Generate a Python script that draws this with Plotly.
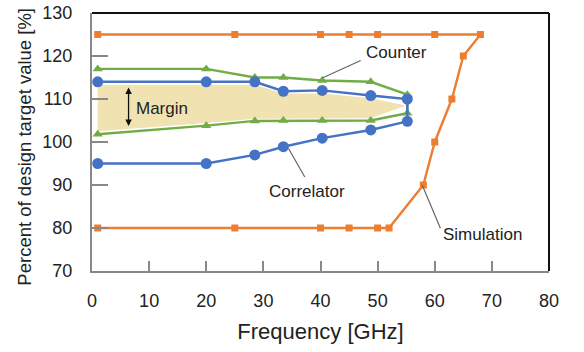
import plotly.graph_objects as go

# Data
sim_x = [1, 25, 40, 45, 50, 52, 58, 60, 63, 65, 68, 60, 50, 45, 40, 25, 1]
sim_y = [80, 80, 80, 80, 80, 80, 90, 100, 110, 120, 125, 125, 125, 125, 125, 125, 125]

counter_x = [1, 20, 28.5, 33.5, 40.3, 48.8, 55.2, 55.2, 48.8, 40.3, 33.5, 28.5, 20, 1]
counter_y = [117, 117, 115, 115, 114.3, 114, 111, 106.7, 105, 105, 105, 104.9, 103.8, 101.8]

corr_x = [1, 20, 28.5, 33.5, 40.3, 48.8, 55.2, 55.2, 48.8, 40.3, 33.5, 28.5, 20, 1]
corr_y = [114, 114, 114, 111.8, 112, 110.8, 110, 104.8, 102.8, 100.9, 98.9, 97, 95, 95]

fill_x = [1, 20, 28.5, 33.5, 40.3, 48.8, 55, 48.8, 40.3, 33.5, 28.5, 20, 1]
fill_y = [113.3, 113.3, 113.3, 111.3, 111.3, 110.2, 108.5, 105.5, 105.5, 105.5, 105.4, 104.4, 102.5]

x_ticks = [0, 10, 20, 30, 40, 50, 60, 70, 80]
y_ticks = [70, 80, 90, 100, 110, 120, 130]

ORANGE = "#ED7D31"
BLUE = "#4472C4"
GREEN = "#70AD47"
TAN = "#F1E2B2"
FONT = "Liberation Sans, Arial, sans-serif"

fig = go.Figure()
fig.add_trace(go.Scatter(x=fill_x, y=fill_y, fill="toself", fillcolor=TAN,
                         mode="lines", line=dict(width=0), hoverinfo="skip"))
fig.add_trace(go.Scatter(x=sim_x, y=sim_y, mode="lines+markers",
                         line=dict(color=ORANGE, width=2.4),
                         marker=dict(symbol="square", size=7, color=ORANGE)))
fig.add_trace(go.Scatter(x=counter_x, y=counter_y, mode="lines+markers",
                         line=dict(color=GREEN, width=2.4),
                         marker=dict(symbol="triangle-up", size=9, color=GREEN)))
fig.add_trace(go.Scatter(x=corr_x, y=corr_y, mode="lines+markers",
                         line=dict(color=BLUE, width=2.4),
                         marker=dict(symbol="circle", size=11, color=BLUE)))

ann_font = dict(family=FONT, size=17, color="#222222")
leader = dict(showarrow=True, arrowhead=0, arrowwidth=1.2, arrowcolor="#666666",
              axref="x", ayref="y")

fig.add_annotation(x=12.2, y=107.8, text="Margin", showarrow=False, font=ann_font)
fig.add_annotation(x=6.4, y=112.7, ax=6.4, ay=103.4, axref="x", ayref="y",
                   showarrow=True, arrowhead=2, arrowside="end+start",
                   arrowsize=1, arrowwidth=1.3, arrowcolor="#111111",
                   text="")
fig.add_annotation(x=53.3, y=120.9, text="Counter", showarrow=False, font=ann_font)
fig.add_annotation(x=40.3, y=114.9, ax=47.3, ay=119.1, text="", **leader)
fig.add_annotation(x=37.7, y=88.6, text="Correlator", showarrow=False, font=ann_font)
fig.add_annotation(x=34.4, y=98.5, ax=37.4, ay=91.5, text="", **leader)
fig.add_annotation(x=68.4, y=78.4, text="Simulation", showarrow=False, font=ann_font)
fig.add_annotation(x=57.8, y=90, ax=61.1, ay=79.6, text="", **leader)

# y-axis title
fig.add_annotation(xref="paper", yref="paper", x=-0.1466, y=0.482,
                   text="Percent of design target value [%]", textangle=-90,
                   showarrow=False, xanchor="center", yanchor="middle",
                   font=dict(family=FONT, size=18.5, color="#222222"))

# top and right black border
fig.add_shape(type="line", xref="paper", yref="paper", x0=0, x1=1, y0=1, y1=1,
              line=dict(color="#111111", width=2))
fig.add_shape(type="line", xref="paper", yref="paper", x0=1, x1=1, y0=0, y1=1,
              line=dict(color="#111111", width=2))

fig.update_layout(
    width=584, height=352,
    margin=dict(l=92, r=35, t=13, b=81),
    paper_bgcolor="white", plot_bgcolor="white",
    showlegend=False,
    font=dict(family=FONT, size=18, color="#222222"),
    xaxis=dict(range=[0, 80], tickvals=x_ticks, ticks="inside", ticklen=10,
               tickcolor="#888888", tickwidth=1.5, showgrid=False, zeroline=False,
               showline=True, linecolor="#888888", linewidth=2, automargin=False,
               ticklabelstandoff=12,
               title=dict(text="Frequency [GHz]", standoff=14),
               tickfont=dict(size=18)),
    yaxis=dict(range=[70, 130], tickvals=y_ticks, ticks="inside", ticklen=16,
               tickcolor="#888888", tickwidth=1.5, showgrid=False, zeroline=False,
               showline=True, linecolor="#888888", linewidth=2, automargin=False,
               ticklabelstandoff=14,
               tickfont=dict(size=18)),
)

fig.write_html("out.html", config={"displayModeBar": False},
               post_script="document.body.style.margin='0';document.body.style.overflow='hidden';")
